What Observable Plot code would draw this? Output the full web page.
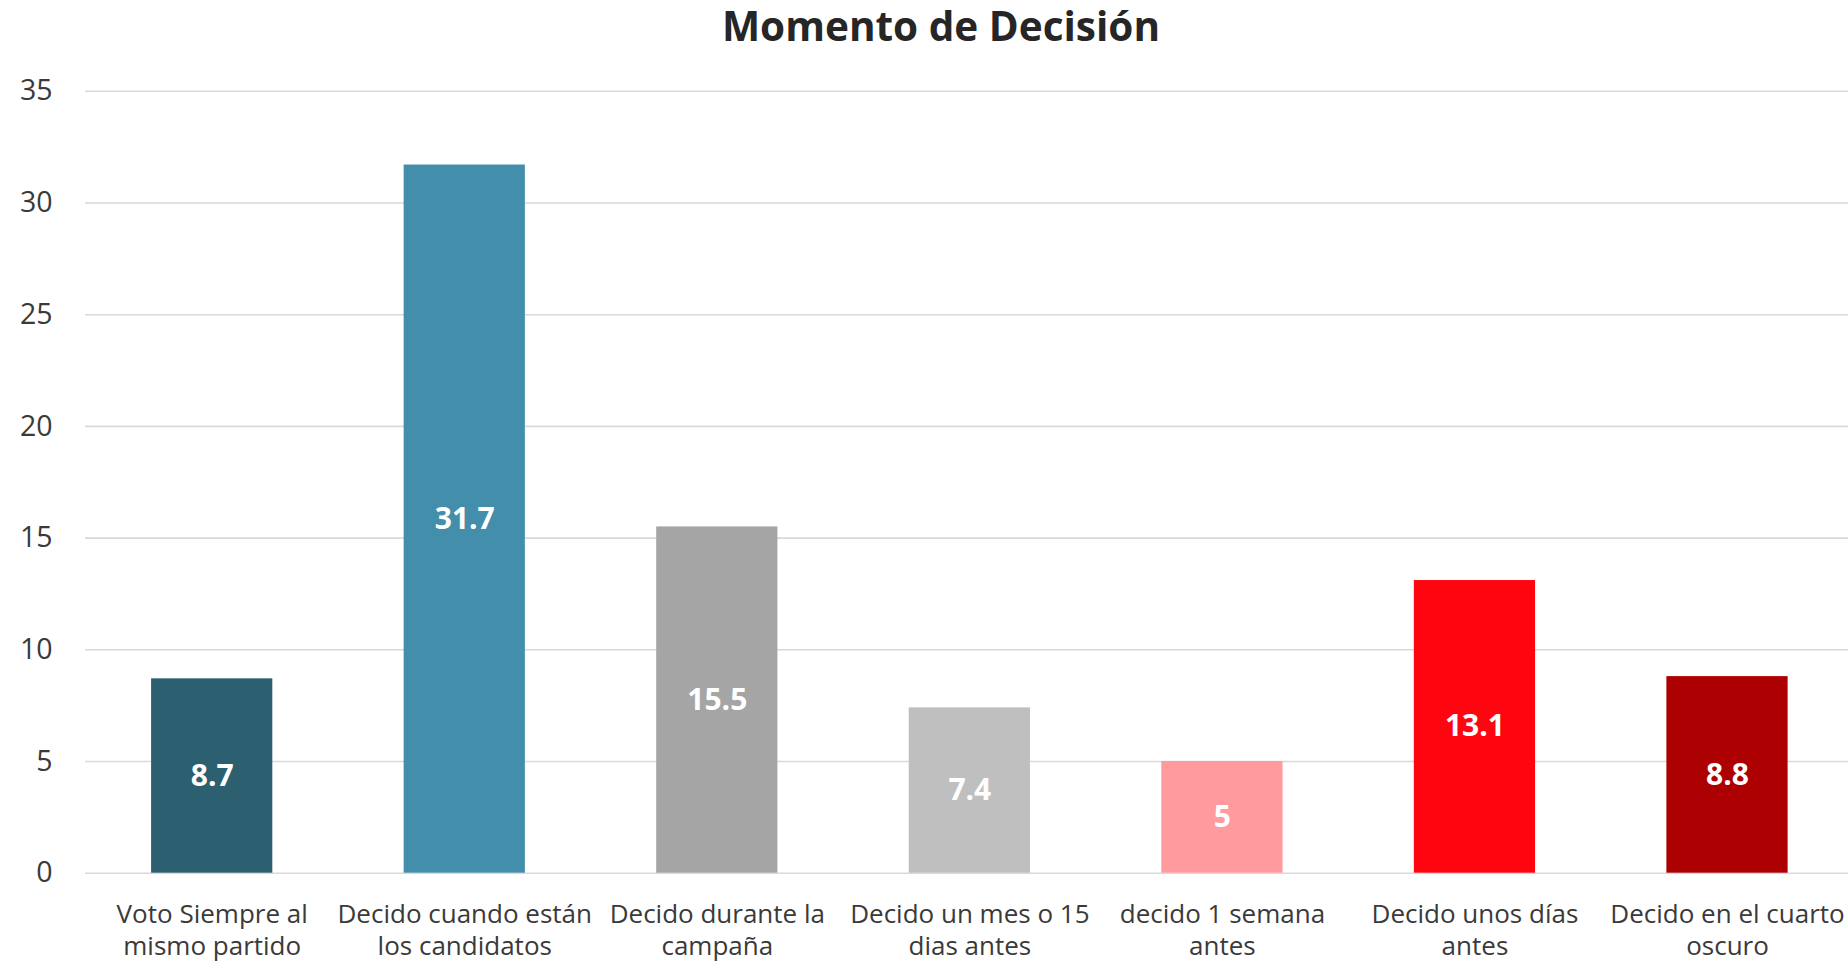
<!DOCTYPE html>
<html>
<head>
<meta charset="utf-8">
<script src="https://cdn.jsdelivr.net/npm/d3@7"></script>
<script src="https://cdn.jsdelivr.net/npm/@observablehq/plot@0.6"></script>
<style>
  html, body { margin: 0; padding: 0; background: #fff; overflow: hidden; }
  #title {
    box-sizing: border-box; width: 1848px; height: 60px; line-height: 52px;
    padding-left: 34px; text-align: center;
    font-family: "Open Sans", sans-serif; font-weight: 700; font-size: 40.5px; color: #262626;
  }
  #chart svg { display: block; overflow: hidden; }
</style>
</head>
<body>
<div id="title">Momento de Decisión</div>
<div id="chart"></div>
<script>
const categories = [
  "Voto Siempre al mismo partido",
  "Decido cuando están los candidatos",
  "Decido durante la campaña",
  "Decido un mes o 15 dias antes",
  "decido 1 semana antes",
  "Decido unos días antes",
  "Decido en el cuarto oscuro"
];
const tickLabels = [
  "Voto Siempre al\nmismo partido",
  "Decido cuando están\nlos candidatos",
  "Decido durante la\ncampaña",
  "Decido un mes o 15\ndias antes",
  "decido 1 semana\nantes",
  "Decido unos días\nantes",
  "Decido en el cuarto\noscuro"
];
const values = [8.7, 31.7, 15.5, 7.4, 5, 13.1, 8.8];
const colors = ["#2c5f70", "#438eab", "#a5a5a5", "#bfbfbf", "#ff9b9e", "#ff0510", "#ad0003"];
const yTicks = [0, 5, 10, 15, 20, 25, 30, 35];

const data = categories.map((c, i) => ({ category: c, value: values[i], color: colors[i], label: tickLabels[i] }));

const chart = Plot.plot({
  width: 1848,
  height: 901,
  marginTop: 30.8,
  marginBottom: 88.3,
  marginLeft: 85,
  marginRight: 0,
  style: { fontFamily: "Open Sans, sans-serif", background: "#fff" },
  x: { domain: categories, range: [85, 1853.7], paddingInner: 0.52, paddingOuter: 0.2617, round: false, label: null, axis: null },
  y: { domain: [0, 35], ticks: yTicks, label: null },
  marks: [
    Plot.gridY(yTicks, { stroke: "#d9d9d9", strokeOpacity: 1, strokeWidth: 1.6 }),
    Plot.axisY({ ticks: yTicks, tickSize: 0, tickPadding: 33, fontSize: 28.5, fill: "#3a3a3a", label: null }),
    Plot.barY(data, { x: "category", y: "value", fill: "color" }),
    Plot.text(data, {
      x: "category", y: d => d.value / 2, text: d => String(d.value),
      fill: "white", fontSize: 30, fontWeight: "bold"
    }),
    Plot.text(data, {
      x: "category", frameAnchor: "bottom", lineAnchor: "top", dy: 27, lineHeight: 1.23,
      text: "label", fontSize: 26, fill: "#3a3a3a"
    })
  ]
});
document.getElementById("chart").appendChild(chart);
</script>
</body>
</html>
